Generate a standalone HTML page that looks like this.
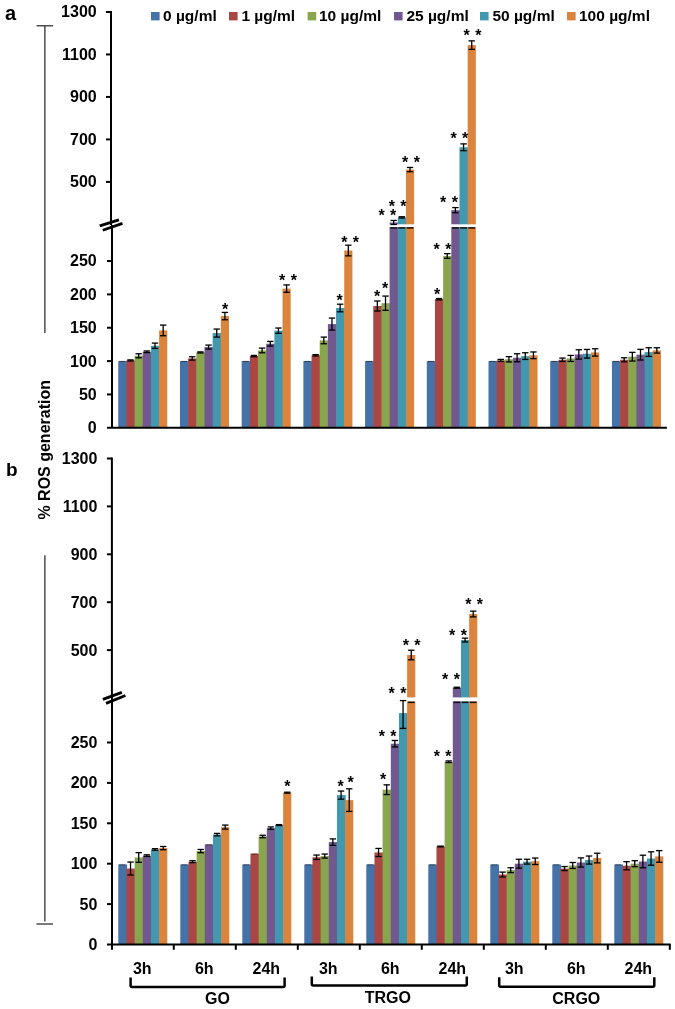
<!DOCTYPE html>
<html lang="en"><head><meta charset="utf-8"><title>ROS generation</title>
<style>html,body{margin:0;padding:0;background:#fff}svg{display:block}</style></head>
<body>
<svg width="675" height="1009" viewBox="0 0 675 1009" font-family='"Liberation Sans", sans-serif' font-weight="bold" fill="#000">
<rect width="675" height="1009" fill="#fff"/>
<rect x="118.25" y="361.10" width="8.77" height="66.70" fill="#4572A7"/>
<line x1="119.33" y1="361.40" x2="125.33" y2="361.40" stroke="#000" stroke-opacity="0.55" stroke-width="1"/>
<rect x="126.42" y="360.43" width="8.77" height="67.37" fill="#AA4643"/>
<line x1="130.50" y1="359.90" x2="130.50" y2="360.97" stroke="#000" stroke-width="1.3" stroke-linecap="butt"/>
<line x1="127.30" y1="359.90" x2="133.70" y2="359.90" stroke="#000" stroke-width="1.3" stroke-linecap="butt"/>
<line x1="127.30" y1="360.97" x2="133.70" y2="360.97" stroke="#000" stroke-width="1.3" stroke-linecap="butt"/>
<rect x="134.59" y="355.76" width="8.77" height="72.04" fill="#89A54E"/>
<line x1="138.67" y1="353.76" x2="138.67" y2="357.76" stroke="#000" stroke-width="1.3" stroke-linecap="butt"/>
<line x1="135.47" y1="353.76" x2="141.87" y2="353.76" stroke="#000" stroke-width="1.3" stroke-linecap="butt"/>
<line x1="135.47" y1="357.76" x2="141.87" y2="357.76" stroke="#000" stroke-width="1.3" stroke-linecap="butt"/>
<rect x="142.75" y="351.76" width="8.77" height="76.04" fill="#71588F"/>
<line x1="146.84" y1="350.96" x2="146.84" y2="352.56" stroke="#000" stroke-width="1.3" stroke-linecap="butt"/>
<line x1="143.64" y1="350.96" x2="150.04" y2="350.96" stroke="#000" stroke-width="1.3" stroke-linecap="butt"/>
<line x1="143.64" y1="352.56" x2="150.04" y2="352.56" stroke="#000" stroke-width="1.3" stroke-linecap="butt"/>
<rect x="150.93" y="345.76" width="8.77" height="82.04" fill="#4198AF"/>
<line x1="155.01" y1="343.09" x2="155.01" y2="348.43" stroke="#000" stroke-width="1.3" stroke-linecap="butt"/>
<line x1="151.81" y1="343.09" x2="158.21" y2="343.09" stroke="#000" stroke-width="1.3" stroke-linecap="butt"/>
<line x1="151.81" y1="348.43" x2="158.21" y2="348.43" stroke="#000" stroke-width="1.3" stroke-linecap="butt"/>
<rect x="159.09" y="330.42" width="8.17" height="97.38" fill="#DB843D"/>
<line x1="163.18" y1="325.08" x2="163.18" y2="335.75" stroke="#000" stroke-width="1.3" stroke-linecap="butt"/>
<line x1="159.98" y1="325.08" x2="166.38" y2="325.08" stroke="#000" stroke-width="1.3" stroke-linecap="butt"/>
<line x1="159.98" y1="335.75" x2="166.38" y2="335.75" stroke="#000" stroke-width="1.3" stroke-linecap="butt"/>
<rect x="179.96" y="361.10" width="8.77" height="66.70" fill="#4572A7"/>
<line x1="181.04" y1="361.40" x2="187.04" y2="361.40" stroke="#000" stroke-opacity="0.55" stroke-width="1"/>
<rect x="188.12" y="358.43" width="8.77" height="69.37" fill="#AA4643"/>
<line x1="192.21" y1="356.76" x2="192.21" y2="360.10" stroke="#000" stroke-width="1.3" stroke-linecap="butt"/>
<line x1="189.01" y1="356.76" x2="195.41" y2="356.76" stroke="#000" stroke-width="1.3" stroke-linecap="butt"/>
<line x1="189.01" y1="360.10" x2="195.41" y2="360.10" stroke="#000" stroke-width="1.3" stroke-linecap="butt"/>
<rect x="196.30" y="352.43" width="8.77" height="75.37" fill="#89A54E"/>
<line x1="200.38" y1="351.90" x2="200.38" y2="352.96" stroke="#000" stroke-width="1.3" stroke-linecap="butt"/>
<line x1="197.18" y1="351.90" x2="203.58" y2="351.90" stroke="#000" stroke-width="1.3" stroke-linecap="butt"/>
<line x1="197.18" y1="352.96" x2="203.58" y2="352.96" stroke="#000" stroke-width="1.3" stroke-linecap="butt"/>
<rect x="204.47" y="347.09" width="8.77" height="80.71" fill="#71588F"/>
<line x1="208.55" y1="345.09" x2="208.55" y2="349.09" stroke="#000" stroke-width="1.3" stroke-linecap="butt"/>
<line x1="205.35" y1="345.09" x2="211.75" y2="345.09" stroke="#000" stroke-width="1.3" stroke-linecap="butt"/>
<line x1="205.35" y1="349.09" x2="211.75" y2="349.09" stroke="#000" stroke-width="1.3" stroke-linecap="butt"/>
<rect x="212.64" y="333.09" width="8.77" height="94.71" fill="#4198AF"/>
<line x1="216.72" y1="329.08" x2="216.72" y2="337.09" stroke="#000" stroke-width="1.3" stroke-linecap="butt"/>
<line x1="213.52" y1="329.08" x2="219.92" y2="329.08" stroke="#000" stroke-width="1.3" stroke-linecap="butt"/>
<line x1="213.52" y1="337.09" x2="219.92" y2="337.09" stroke="#000" stroke-width="1.3" stroke-linecap="butt"/>
<rect x="220.81" y="316.08" width="8.17" height="111.72" fill="#DB843D"/>
<line x1="224.89" y1="312.41" x2="224.89" y2="319.75" stroke="#000" stroke-width="1.3" stroke-linecap="butt"/>
<line x1="221.69" y1="312.41" x2="228.09" y2="312.41" stroke="#000" stroke-width="1.3" stroke-linecap="butt"/>
<line x1="221.69" y1="319.75" x2="228.09" y2="319.75" stroke="#000" stroke-width="1.3" stroke-linecap="butt"/>
<rect x="241.67" y="361.10" width="8.77" height="66.70" fill="#4572A7"/>
<line x1="242.75" y1="361.40" x2="248.75" y2="361.40" stroke="#000" stroke-opacity="0.55" stroke-width="1"/>
<rect x="249.84" y="356.10" width="8.77" height="71.70" fill="#AA4643"/>
<line x1="253.92" y1="355.43" x2="253.92" y2="356.76" stroke="#000" stroke-width="1.3" stroke-linecap="butt"/>
<line x1="250.72" y1="355.43" x2="257.12" y2="355.43" stroke="#000" stroke-width="1.3" stroke-linecap="butt"/>
<line x1="250.72" y1="356.76" x2="257.12" y2="356.76" stroke="#000" stroke-width="1.3" stroke-linecap="butt"/>
<rect x="258.00" y="350.43" width="8.77" height="77.37" fill="#89A54E"/>
<line x1="262.09" y1="348.09" x2="262.09" y2="352.76" stroke="#000" stroke-width="1.3" stroke-linecap="butt"/>
<line x1="258.89" y1="348.09" x2="265.29" y2="348.09" stroke="#000" stroke-width="1.3" stroke-linecap="butt"/>
<line x1="258.89" y1="352.76" x2="265.29" y2="352.76" stroke="#000" stroke-width="1.3" stroke-linecap="butt"/>
<rect x="266.18" y="343.76" width="8.77" height="84.04" fill="#71588F"/>
<line x1="270.26" y1="341.42" x2="270.26" y2="346.09" stroke="#000" stroke-width="1.3" stroke-linecap="butt"/>
<line x1="267.06" y1="341.42" x2="273.46" y2="341.42" stroke="#000" stroke-width="1.3" stroke-linecap="butt"/>
<line x1="267.06" y1="346.09" x2="273.46" y2="346.09" stroke="#000" stroke-width="1.3" stroke-linecap="butt"/>
<rect x="274.35" y="330.68" width="8.77" height="97.12" fill="#4198AF"/>
<line x1="278.43" y1="328.02" x2="278.43" y2="333.35" stroke="#000" stroke-width="1.3" stroke-linecap="butt"/>
<line x1="275.23" y1="328.02" x2="281.63" y2="328.02" stroke="#000" stroke-width="1.3" stroke-linecap="butt"/>
<line x1="275.23" y1="333.35" x2="281.63" y2="333.35" stroke="#000" stroke-width="1.3" stroke-linecap="butt"/>
<rect x="282.52" y="288.60" width="8.17" height="139.20" fill="#DB843D"/>
<line x1="286.60" y1="284.93" x2="286.60" y2="292.27" stroke="#000" stroke-width="1.3" stroke-linecap="butt"/>
<line x1="283.40" y1="284.93" x2="289.80" y2="284.93" stroke="#000" stroke-width="1.3" stroke-linecap="butt"/>
<line x1="283.40" y1="292.27" x2="289.80" y2="292.27" stroke="#000" stroke-width="1.3" stroke-linecap="butt"/>
<rect x="303.38" y="361.10" width="8.77" height="66.70" fill="#4572A7"/>
<line x1="304.46" y1="361.40" x2="310.46" y2="361.40" stroke="#000" stroke-opacity="0.55" stroke-width="1"/>
<rect x="311.55" y="355.30" width="8.77" height="72.50" fill="#AA4643"/>
<line x1="315.63" y1="354.63" x2="315.63" y2="355.96" stroke="#000" stroke-width="1.3" stroke-linecap="butt"/>
<line x1="312.43" y1="354.63" x2="318.83" y2="354.63" stroke="#000" stroke-width="1.3" stroke-linecap="butt"/>
<line x1="312.43" y1="355.96" x2="318.83" y2="355.96" stroke="#000" stroke-width="1.3" stroke-linecap="butt"/>
<rect x="319.71" y="340.42" width="8.77" height="87.38" fill="#89A54E"/>
<line x1="323.80" y1="337.09" x2="323.80" y2="343.76" stroke="#000" stroke-width="1.3" stroke-linecap="butt"/>
<line x1="320.60" y1="337.09" x2="327.00" y2="337.09" stroke="#000" stroke-width="1.3" stroke-linecap="butt"/>
<line x1="320.60" y1="343.76" x2="327.00" y2="343.76" stroke="#000" stroke-width="1.3" stroke-linecap="butt"/>
<rect x="327.88" y="324.08" width="8.77" height="103.72" fill="#71588F"/>
<line x1="331.97" y1="318.08" x2="331.97" y2="330.08" stroke="#000" stroke-width="1.3" stroke-linecap="butt"/>
<line x1="328.77" y1="318.08" x2="335.17" y2="318.08" stroke="#000" stroke-width="1.3" stroke-linecap="butt"/>
<line x1="328.77" y1="330.08" x2="335.17" y2="330.08" stroke="#000" stroke-width="1.3" stroke-linecap="butt"/>
<rect x="336.06" y="308.01" width="8.77" height="119.79" fill="#4198AF"/>
<line x1="340.14" y1="304.20" x2="340.14" y2="311.81" stroke="#000" stroke-width="1.3" stroke-linecap="butt"/>
<line x1="336.94" y1="304.20" x2="343.34" y2="304.20" stroke="#000" stroke-width="1.3" stroke-linecap="butt"/>
<line x1="336.94" y1="311.81" x2="343.34" y2="311.81" stroke="#000" stroke-width="1.3" stroke-linecap="butt"/>
<rect x="344.23" y="250.51" width="8.17" height="177.29" fill="#DB843D"/>
<line x1="348.31" y1="245.18" x2="348.31" y2="255.85" stroke="#000" stroke-width="1.3" stroke-linecap="butt"/>
<line x1="345.11" y1="245.18" x2="351.51" y2="245.18" stroke="#000" stroke-width="1.3" stroke-linecap="butt"/>
<line x1="345.11" y1="255.85" x2="351.51" y2="255.85" stroke="#000" stroke-width="1.3" stroke-linecap="butt"/>
<rect x="365.09" y="361.10" width="8.77" height="66.70" fill="#4572A7"/>
<line x1="366.17" y1="361.40" x2="372.17" y2="361.40" stroke="#000" stroke-opacity="0.55" stroke-width="1"/>
<rect x="373.26" y="306.01" width="8.77" height="121.79" fill="#AA4643"/>
<line x1="377.34" y1="301.00" x2="377.34" y2="311.01" stroke="#000" stroke-width="1.3" stroke-linecap="butt"/>
<line x1="374.14" y1="301.00" x2="380.54" y2="301.00" stroke="#000" stroke-width="1.3" stroke-linecap="butt"/>
<line x1="374.14" y1="311.01" x2="380.54" y2="311.01" stroke="#000" stroke-width="1.3" stroke-linecap="butt"/>
<rect x="381.43" y="303.20" width="8.77" height="124.60" fill="#89A54E"/>
<line x1="385.51" y1="296.07" x2="385.51" y2="310.34" stroke="#000" stroke-width="1.3" stroke-linecap="butt"/>
<line x1="382.31" y1="296.07" x2="388.71" y2="296.07" stroke="#000" stroke-width="1.3" stroke-linecap="butt"/>
<line x1="382.31" y1="310.34" x2="388.71" y2="310.34" stroke="#000" stroke-width="1.3" stroke-linecap="butt"/>
<rect x="389.60" y="227.00" width="8.77" height="200.80" fill="#71588F"/>
<rect x="389.60" y="222.47" width="8.77" height="1.83" fill="#71588F"/>
<rect x="390.30" y="227.20" width="6.77" height="1.50" fill="#111"/>
<line x1="393.68" y1="220.45" x2="393.68" y2="224.49" stroke="#000" stroke-width="1.3" stroke-linecap="butt"/>
<line x1="390.48" y1="220.45" x2="396.88" y2="220.45" stroke="#000" stroke-width="1.3" stroke-linecap="butt"/>
<line x1="390.48" y1="224.49" x2="396.88" y2="224.49" stroke="#000" stroke-width="1.3" stroke-linecap="butt"/>
<rect x="397.77" y="227.00" width="8.77" height="200.80" fill="#4198AF"/>
<rect x="397.77" y="217.37" width="8.77" height="6.93" fill="#4198AF"/>
<rect x="398.47" y="227.20" width="6.77" height="1.50" fill="#111"/>
<line x1="401.85" y1="216.73" x2="401.85" y2="218.01" stroke="#000" stroke-width="1.3" stroke-linecap="butt"/>
<line x1="398.65" y1="216.73" x2="405.05" y2="216.73" stroke="#000" stroke-width="1.3" stroke-linecap="butt"/>
<line x1="398.65" y1="218.01" x2="405.05" y2="218.01" stroke="#000" stroke-width="1.3" stroke-linecap="butt"/>
<rect x="405.94" y="227.00" width="8.17" height="200.80" fill="#DB843D"/>
<rect x="405.94" y="169.58" width="8.17" height="54.72" fill="#DB843D"/>
<rect x="406.64" y="227.20" width="6.77" height="1.50" fill="#111"/>
<line x1="410.02" y1="167.46" x2="410.02" y2="171.70" stroke="#000" stroke-width="1.3" stroke-linecap="butt"/>
<line x1="406.82" y1="167.46" x2="413.22" y2="167.46" stroke="#000" stroke-width="1.3" stroke-linecap="butt"/>
<line x1="406.82" y1="171.70" x2="413.22" y2="171.70" stroke="#000" stroke-width="1.3" stroke-linecap="butt"/>
<rect x="426.80" y="361.10" width="8.77" height="66.70" fill="#4572A7"/>
<line x1="427.88" y1="361.40" x2="433.88" y2="361.40" stroke="#000" stroke-opacity="0.55" stroke-width="1"/>
<rect x="434.97" y="299.20" width="8.77" height="128.60" fill="#AA4643"/>
<line x1="439.05" y1="298.54" x2="439.05" y2="299.87" stroke="#000" stroke-width="1.3" stroke-linecap="butt"/>
<line x1="435.85" y1="298.54" x2="442.25" y2="298.54" stroke="#000" stroke-width="1.3" stroke-linecap="butt"/>
<line x1="435.85" y1="299.87" x2="442.25" y2="299.87" stroke="#000" stroke-width="1.3" stroke-linecap="butt"/>
<rect x="443.13" y="255.98" width="8.77" height="171.82" fill="#89A54E"/>
<line x1="447.22" y1="253.65" x2="447.22" y2="258.32" stroke="#000" stroke-width="1.3" stroke-linecap="butt"/>
<line x1="444.02" y1="253.65" x2="450.42" y2="253.65" stroke="#000" stroke-width="1.3" stroke-linecap="butt"/>
<line x1="444.02" y1="258.32" x2="450.42" y2="258.32" stroke="#000" stroke-width="1.3" stroke-linecap="butt"/>
<rect x="451.31" y="227.00" width="8.77" height="200.80" fill="#71588F"/>
<rect x="451.31" y="210.15" width="8.77" height="14.15" fill="#71588F"/>
<rect x="452.00" y="227.20" width="6.77" height="1.50" fill="#111"/>
<line x1="455.39" y1="207.60" x2="455.39" y2="212.70" stroke="#000" stroke-width="1.3" stroke-linecap="butt"/>
<line x1="452.19" y1="207.60" x2="458.59" y2="207.60" stroke="#000" stroke-width="1.3" stroke-linecap="butt"/>
<line x1="452.19" y1="212.70" x2="458.59" y2="212.70" stroke="#000" stroke-width="1.3" stroke-linecap="butt"/>
<rect x="459.48" y="227.00" width="8.77" height="200.80" fill="#4198AF"/>
<rect x="459.48" y="147.28" width="8.77" height="77.02" fill="#4198AF"/>
<rect x="460.18" y="227.20" width="6.77" height="1.50" fill="#111"/>
<line x1="463.56" y1="143.88" x2="463.56" y2="150.68" stroke="#000" stroke-width="1.3" stroke-linecap="butt"/>
<line x1="460.36" y1="143.88" x2="466.76" y2="143.88" stroke="#000" stroke-width="1.3" stroke-linecap="butt"/>
<line x1="460.36" y1="150.68" x2="466.76" y2="150.68" stroke="#000" stroke-width="1.3" stroke-linecap="butt"/>
<rect x="467.65" y="227.00" width="8.17" height="200.80" fill="#DB843D"/>
<rect x="467.65" y="45.11" width="8.17" height="179.19" fill="#DB843D"/>
<rect x="468.35" y="227.20" width="6.77" height="1.50" fill="#111"/>
<line x1="471.73" y1="40.87" x2="471.73" y2="49.36" stroke="#000" stroke-width="1.3" stroke-linecap="butt"/>
<line x1="468.53" y1="40.87" x2="474.93" y2="40.87" stroke="#000" stroke-width="1.3" stroke-linecap="butt"/>
<line x1="468.53" y1="49.36" x2="474.93" y2="49.36" stroke="#000" stroke-width="1.3" stroke-linecap="butt"/>
<rect x="488.50" y="361.10" width="8.77" height="66.70" fill="#4572A7"/>
<line x1="489.59" y1="361.40" x2="495.59" y2="361.40" stroke="#000" stroke-opacity="0.55" stroke-width="1"/>
<rect x="496.68" y="360.43" width="8.77" height="67.37" fill="#AA4643"/>
<line x1="500.76" y1="359.43" x2="500.76" y2="361.43" stroke="#000" stroke-width="1.3" stroke-linecap="butt"/>
<line x1="497.56" y1="359.43" x2="503.96" y2="359.43" stroke="#000" stroke-width="1.3" stroke-linecap="butt"/>
<line x1="497.56" y1="361.43" x2="503.96" y2="361.43" stroke="#000" stroke-width="1.3" stroke-linecap="butt"/>
<rect x="504.84" y="359.30" width="8.77" height="68.50" fill="#89A54E"/>
<line x1="508.93" y1="356.63" x2="508.93" y2="361.97" stroke="#000" stroke-width="1.3" stroke-linecap="butt"/>
<line x1="505.73" y1="356.63" x2="512.13" y2="356.63" stroke="#000" stroke-width="1.3" stroke-linecap="butt"/>
<line x1="505.73" y1="361.97" x2="512.13" y2="361.97" stroke="#000" stroke-width="1.3" stroke-linecap="butt"/>
<rect x="513.01" y="357.76" width="8.77" height="70.04" fill="#71588F"/>
<line x1="517.10" y1="353.76" x2="517.10" y2="361.77" stroke="#000" stroke-width="1.3" stroke-linecap="butt"/>
<line x1="513.90" y1="353.76" x2="520.30" y2="353.76" stroke="#000" stroke-width="1.3" stroke-linecap="butt"/>
<line x1="513.90" y1="361.77" x2="520.30" y2="361.77" stroke="#000" stroke-width="1.3" stroke-linecap="butt"/>
<rect x="521.18" y="356.10" width="8.77" height="71.70" fill="#4198AF"/>
<line x1="525.27" y1="352.76" x2="525.27" y2="359.43" stroke="#000" stroke-width="1.3" stroke-linecap="butt"/>
<line x1="522.07" y1="352.76" x2="528.47" y2="352.76" stroke="#000" stroke-width="1.3" stroke-linecap="butt"/>
<line x1="522.07" y1="359.43" x2="528.47" y2="359.43" stroke="#000" stroke-width="1.3" stroke-linecap="butt"/>
<rect x="529.36" y="355.30" width="8.17" height="72.50" fill="#DB843D"/>
<line x1="533.44" y1="351.96" x2="533.44" y2="358.63" stroke="#000" stroke-width="1.3" stroke-linecap="butt"/>
<line x1="530.24" y1="351.96" x2="536.64" y2="351.96" stroke="#000" stroke-width="1.3" stroke-linecap="butt"/>
<line x1="530.24" y1="358.63" x2="536.64" y2="358.63" stroke="#000" stroke-width="1.3" stroke-linecap="butt"/>
<rect x="550.22" y="361.10" width="8.77" height="66.70" fill="#4572A7"/>
<line x1="551.30" y1="361.40" x2="557.30" y2="361.40" stroke="#000" stroke-opacity="0.55" stroke-width="1"/>
<rect x="558.38" y="359.77" width="8.77" height="68.03" fill="#AA4643"/>
<line x1="562.47" y1="358.10" x2="562.47" y2="361.43" stroke="#000" stroke-width="1.3" stroke-linecap="butt"/>
<line x1="559.27" y1="358.10" x2="565.67" y2="358.10" stroke="#000" stroke-width="1.3" stroke-linecap="butt"/>
<line x1="559.27" y1="361.43" x2="565.67" y2="361.43" stroke="#000" stroke-width="1.3" stroke-linecap="butt"/>
<rect x="566.56" y="358.43" width="8.77" height="69.37" fill="#89A54E"/>
<line x1="570.64" y1="355.43" x2="570.64" y2="361.43" stroke="#000" stroke-width="1.3" stroke-linecap="butt"/>
<line x1="567.44" y1="355.43" x2="573.84" y2="355.43" stroke="#000" stroke-width="1.3" stroke-linecap="butt"/>
<line x1="567.44" y1="361.43" x2="573.84" y2="361.43" stroke="#000" stroke-width="1.3" stroke-linecap="butt"/>
<rect x="574.73" y="354.43" width="8.77" height="73.37" fill="#71588F"/>
<line x1="578.81" y1="349.76" x2="578.81" y2="359.10" stroke="#000" stroke-width="1.3" stroke-linecap="butt"/>
<line x1="575.61" y1="349.76" x2="582.01" y2="349.76" stroke="#000" stroke-width="1.3" stroke-linecap="butt"/>
<line x1="575.61" y1="359.10" x2="582.01" y2="359.10" stroke="#000" stroke-width="1.3" stroke-linecap="butt"/>
<rect x="582.89" y="353.76" width="8.77" height="74.04" fill="#4198AF"/>
<line x1="586.98" y1="349.43" x2="586.98" y2="358.10" stroke="#000" stroke-width="1.3" stroke-linecap="butt"/>
<line x1="583.78" y1="349.43" x2="590.18" y2="349.43" stroke="#000" stroke-width="1.3" stroke-linecap="butt"/>
<line x1="583.78" y1="358.10" x2="590.18" y2="358.10" stroke="#000" stroke-width="1.3" stroke-linecap="butt"/>
<rect x="591.07" y="352.43" width="8.17" height="75.37" fill="#DB843D"/>
<line x1="595.15" y1="348.76" x2="595.15" y2="356.10" stroke="#000" stroke-width="1.3" stroke-linecap="butt"/>
<line x1="591.95" y1="348.76" x2="598.35" y2="348.76" stroke="#000" stroke-width="1.3" stroke-linecap="butt"/>
<line x1="591.95" y1="356.10" x2="598.35" y2="356.10" stroke="#000" stroke-width="1.3" stroke-linecap="butt"/>
<rect x="611.93" y="361.10" width="8.77" height="66.70" fill="#4572A7"/>
<line x1="613.01" y1="361.40" x2="619.01" y2="361.40" stroke="#000" stroke-opacity="0.55" stroke-width="1"/>
<rect x="620.10" y="359.77" width="8.77" height="68.03" fill="#AA4643"/>
<line x1="624.18" y1="357.76" x2="624.18" y2="361.77" stroke="#000" stroke-width="1.3" stroke-linecap="butt"/>
<line x1="620.98" y1="357.76" x2="627.38" y2="357.76" stroke="#000" stroke-width="1.3" stroke-linecap="butt"/>
<line x1="620.98" y1="361.77" x2="627.38" y2="361.77" stroke="#000" stroke-width="1.3" stroke-linecap="butt"/>
<rect x="628.27" y="356.70" width="8.77" height="71.10" fill="#89A54E"/>
<line x1="632.35" y1="352.36" x2="632.35" y2="361.03" stroke="#000" stroke-width="1.3" stroke-linecap="butt"/>
<line x1="629.15" y1="352.36" x2="635.55" y2="352.36" stroke="#000" stroke-width="1.3" stroke-linecap="butt"/>
<line x1="629.15" y1="361.03" x2="635.55" y2="361.03" stroke="#000" stroke-width="1.3" stroke-linecap="butt"/>
<rect x="636.44" y="354.70" width="8.77" height="73.10" fill="#71588F"/>
<line x1="640.52" y1="349.36" x2="640.52" y2="360.03" stroke="#000" stroke-width="1.3" stroke-linecap="butt"/>
<line x1="637.32" y1="349.36" x2="643.72" y2="349.36" stroke="#000" stroke-width="1.3" stroke-linecap="butt"/>
<line x1="637.32" y1="360.03" x2="643.72" y2="360.03" stroke="#000" stroke-width="1.3" stroke-linecap="butt"/>
<rect x="644.61" y="352.10" width="8.77" height="75.70" fill="#4198AF"/>
<line x1="648.69" y1="347.76" x2="648.69" y2="356.43" stroke="#000" stroke-width="1.3" stroke-linecap="butt"/>
<line x1="645.49" y1="347.76" x2="651.89" y2="347.76" stroke="#000" stroke-width="1.3" stroke-linecap="butt"/>
<line x1="645.49" y1="356.43" x2="651.89" y2="356.43" stroke="#000" stroke-width="1.3" stroke-linecap="butt"/>
<rect x="652.78" y="350.43" width="8.17" height="77.37" fill="#DB843D"/>
<line x1="656.86" y1="347.76" x2="656.86" y2="353.10" stroke="#000" stroke-width="1.3" stroke-linecap="butt"/>
<line x1="653.66" y1="347.76" x2="660.06" y2="347.76" stroke="#000" stroke-width="1.3" stroke-linecap="butt"/>
<line x1="653.66" y1="353.10" x2="660.06" y2="353.10" stroke="#000" stroke-width="1.3" stroke-linecap="butt"/>
<line x1="111.00" y1="11.00" x2="111.00" y2="225.00" stroke="#000" stroke-width="2" stroke-linecap="butt"/>
<line x1="112.00" y1="225.00" x2="112.00" y2="427.80" stroke="#000" stroke-width="2" stroke-linecap="butt"/>
<line x1="107.00" y1="427.80" x2="666.89" y2="427.80" stroke="#000" stroke-width="2" stroke-linecap="butt"/>
<line x1="99.7" y1="225.9" x2="118.9" y2="219.9" stroke="#000" stroke-width="2.8"/>
<line x1="102.8" y1="230.3" x2="122.5" y2="223.4" stroke="#000" stroke-width="2.8"/>
<text x="96.70" y="433.20" font-size="16" text-anchor="end" >0</text>
<line x1="107.00" y1="394.45" x2="112.00" y2="394.45" stroke="#000" stroke-width="2" stroke-linecap="butt"/>
<text x="96.70" y="399.85" font-size="16" text-anchor="end" >50</text>
<line x1="107.00" y1="361.10" x2="112.00" y2="361.10" stroke="#000" stroke-width="2" stroke-linecap="butt"/>
<text x="96.70" y="366.50" font-size="16" text-anchor="end" >100</text>
<line x1="107.00" y1="327.75" x2="112.00" y2="327.75" stroke="#000" stroke-width="2" stroke-linecap="butt"/>
<text x="96.70" y="333.15" font-size="16" text-anchor="end" >150</text>
<line x1="107.00" y1="294.40" x2="112.00" y2="294.40" stroke="#000" stroke-width="2" stroke-linecap="butt"/>
<text x="96.70" y="299.80" font-size="16" text-anchor="end" >200</text>
<line x1="107.00" y1="261.05" x2="112.00" y2="261.05" stroke="#000" stroke-width="2" stroke-linecap="butt"/>
<text x="96.70" y="266.45" font-size="16" text-anchor="end" >250</text>
<line x1="106.00" y1="181.90" x2="111.00" y2="181.90" stroke="#000" stroke-width="2" stroke-linecap="butt"/>
<text x="96.70" y="187.30" font-size="16" text-anchor="end" >500</text>
<line x1="106.00" y1="139.42" x2="111.00" y2="139.42" stroke="#000" stroke-width="2" stroke-linecap="butt"/>
<text x="96.70" y="144.82" font-size="16" text-anchor="end" >700</text>
<line x1="106.00" y1="96.94" x2="111.00" y2="96.94" stroke="#000" stroke-width="2" stroke-linecap="butt"/>
<text x="96.70" y="102.34" font-size="16" text-anchor="end" >900</text>
<line x1="106.00" y1="54.46" x2="111.00" y2="54.46" stroke="#000" stroke-width="2" stroke-linecap="butt"/>
<text x="96.70" y="59.86" font-size="16" text-anchor="end" >1100</text>
<line x1="106.00" y1="11.98" x2="111.00" y2="11.98" stroke="#000" stroke-width="2" stroke-linecap="butt"/>
<text x="96.70" y="17.38" font-size="16" text-anchor="end" >1300</text>
<text x="225.00" y="315.20" font-size="16" text-anchor="middle" >*</text>
<text x="288.00" y="286.20" font-size="16" text-anchor="middle" word-spacing="0.9">* *</text>
<text x="339.60" y="306.00" font-size="16" text-anchor="middle" >*</text>
<text x="350.10" y="247.60" font-size="16" text-anchor="middle" word-spacing="0.9">* *</text>
<text x="377.00" y="302.20" font-size="16" text-anchor="middle" >*</text>
<text x="385.00" y="294.00" font-size="16" text-anchor="middle" >*</text>
<text x="387.30" y="220.90" font-size="16" text-anchor="middle" word-spacing="0.9">* *</text>
<text x="397.70" y="211.90" font-size="16" text-anchor="middle" word-spacing="0.9">* *</text>
<text x="411.00" y="168.20" font-size="16" text-anchor="middle" word-spacing="0.9">* *</text>
<text x="437.00" y="300.20" font-size="16" text-anchor="middle" >*</text>
<text x="442.50" y="255.20" font-size="16" text-anchor="middle" word-spacing="0.9">* *</text>
<text x="449.00" y="208.20" font-size="16" text-anchor="middle" word-spacing="0.9">* *</text>
<text x="459.40" y="143.80" font-size="16" text-anchor="middle" word-spacing="0.9">* *</text>
<text x="472.50" y="41.00" font-size="16" text-anchor="middle" word-spacing="0.9">* *</text>
<rect x="118.29" y="864.51" width="8.77" height="79.99" fill="#4572A7"/>
<line x1="119.37" y1="864.81" x2="125.37" y2="864.81" stroke="#000" stroke-opacity="0.55" stroke-width="1"/>
<rect x="126.46" y="868.55" width="8.77" height="75.95" fill="#AA4643"/>
<line x1="130.54" y1="862.08" x2="130.54" y2="875.01" stroke="#000" stroke-width="1.3" stroke-linecap="butt"/>
<line x1="127.34" y1="862.08" x2="133.74" y2="862.08" stroke="#000" stroke-width="1.3" stroke-linecap="butt"/>
<line x1="127.34" y1="875.01" x2="133.74" y2="875.01" stroke="#000" stroke-width="1.3" stroke-linecap="butt"/>
<rect x="134.63" y="857.48" width="8.77" height="87.02" fill="#89A54E"/>
<line x1="138.72" y1="852.63" x2="138.72" y2="862.33" stroke="#000" stroke-width="1.3" stroke-linecap="butt"/>
<line x1="135.52" y1="852.63" x2="141.91" y2="852.63" stroke="#000" stroke-width="1.3" stroke-linecap="butt"/>
<line x1="135.52" y1="862.33" x2="141.91" y2="862.33" stroke="#000" stroke-width="1.3" stroke-linecap="butt"/>
<rect x="142.80" y="855.62" width="8.77" height="88.88" fill="#71588F"/>
<line x1="146.88" y1="854.81" x2="146.88" y2="856.43" stroke="#000" stroke-width="1.3" stroke-linecap="butt"/>
<line x1="143.69" y1="854.81" x2="150.08" y2="854.81" stroke="#000" stroke-width="1.3" stroke-linecap="butt"/>
<line x1="143.69" y1="856.43" x2="150.08" y2="856.43" stroke="#000" stroke-width="1.3" stroke-linecap="butt"/>
<rect x="150.97" y="849.48" width="8.77" height="95.02" fill="#4198AF"/>
<line x1="155.06" y1="848.67" x2="155.06" y2="850.29" stroke="#000" stroke-width="1.3" stroke-linecap="butt"/>
<line x1="151.86" y1="848.67" x2="158.25" y2="848.67" stroke="#000" stroke-width="1.3" stroke-linecap="butt"/>
<line x1="151.86" y1="850.29" x2="158.25" y2="850.29" stroke="#000" stroke-width="1.3" stroke-linecap="butt"/>
<rect x="159.14" y="848.11" width="8.17" height="96.39" fill="#DB843D"/>
<line x1="163.22" y1="846.49" x2="163.22" y2="849.72" stroke="#000" stroke-width="1.3" stroke-linecap="butt"/>
<line x1="160.03" y1="846.49" x2="166.42" y2="846.49" stroke="#000" stroke-width="1.3" stroke-linecap="butt"/>
<line x1="160.03" y1="849.72" x2="166.42" y2="849.72" stroke="#000" stroke-width="1.3" stroke-linecap="butt"/>
<rect x="180.29" y="864.51" width="8.77" height="79.99" fill="#4572A7"/>
<line x1="181.38" y1="864.81" x2="187.38" y2="864.81" stroke="#000" stroke-opacity="0.55" stroke-width="1"/>
<rect x="188.46" y="861.68" width="8.77" height="82.82" fill="#AA4643"/>
<line x1="192.55" y1="860.71" x2="192.55" y2="862.65" stroke="#000" stroke-width="1.3" stroke-linecap="butt"/>
<line x1="189.35" y1="860.71" x2="195.75" y2="860.71" stroke="#000" stroke-width="1.3" stroke-linecap="butt"/>
<line x1="189.35" y1="862.65" x2="195.75" y2="862.65" stroke="#000" stroke-width="1.3" stroke-linecap="butt"/>
<rect x="196.63" y="851.10" width="8.77" height="93.40" fill="#89A54E"/>
<line x1="200.72" y1="849.48" x2="200.72" y2="852.71" stroke="#000" stroke-width="1.3" stroke-linecap="butt"/>
<line x1="197.52" y1="849.48" x2="203.92" y2="849.48" stroke="#000" stroke-width="1.3" stroke-linecap="butt"/>
<line x1="197.52" y1="852.71" x2="203.92" y2="852.71" stroke="#000" stroke-width="1.3" stroke-linecap="butt"/>
<rect x="204.80" y="844.47" width="8.77" height="100.03" fill="#71588F"/>
<line x1="205.89" y1="844.77" x2="211.89" y2="844.77" stroke="#000" stroke-opacity="0.55" stroke-width="1"/>
<rect x="212.97" y="834.61" width="8.77" height="109.89" fill="#4198AF"/>
<line x1="217.06" y1="833.40" x2="217.06" y2="835.82" stroke="#000" stroke-width="1.3" stroke-linecap="butt"/>
<line x1="213.86" y1="833.40" x2="220.26" y2="833.40" stroke="#000" stroke-width="1.3" stroke-linecap="butt"/>
<line x1="213.86" y1="835.82" x2="220.26" y2="835.82" stroke="#000" stroke-width="1.3" stroke-linecap="butt"/>
<rect x="221.14" y="827.10" width="8.17" height="117.40" fill="#DB843D"/>
<line x1="225.23" y1="825.08" x2="225.23" y2="829.12" stroke="#000" stroke-width="1.3" stroke-linecap="butt"/>
<line x1="222.03" y1="825.08" x2="228.43" y2="825.08" stroke="#000" stroke-width="1.3" stroke-linecap="butt"/>
<line x1="222.03" y1="829.12" x2="228.43" y2="829.12" stroke="#000" stroke-width="1.3" stroke-linecap="butt"/>
<rect x="242.29" y="864.51" width="8.77" height="79.99" fill="#4572A7"/>
<line x1="243.38" y1="864.81" x2="249.38" y2="864.81" stroke="#000" stroke-opacity="0.55" stroke-width="1"/>
<rect x="250.46" y="853.68" width="8.77" height="90.82" fill="#AA4643"/>
<line x1="251.55" y1="853.98" x2="257.55" y2="853.98" stroke="#000" stroke-opacity="0.55" stroke-width="1"/>
<rect x="258.63" y="836.47" width="8.77" height="108.03" fill="#89A54E"/>
<line x1="262.71" y1="835.26" x2="262.71" y2="837.68" stroke="#000" stroke-width="1.3" stroke-linecap="butt"/>
<line x1="259.51" y1="835.26" x2="265.91" y2="835.26" stroke="#000" stroke-width="1.3" stroke-linecap="butt"/>
<line x1="259.51" y1="837.68" x2="265.91" y2="837.68" stroke="#000" stroke-width="1.3" stroke-linecap="butt"/>
<rect x="266.80" y="828.15" width="8.77" height="116.35" fill="#71588F"/>
<line x1="270.88" y1="826.94" x2="270.88" y2="829.36" stroke="#000" stroke-width="1.3" stroke-linecap="butt"/>
<line x1="267.69" y1="826.94" x2="274.08" y2="826.94" stroke="#000" stroke-width="1.3" stroke-linecap="butt"/>
<line x1="267.69" y1="829.36" x2="274.08" y2="829.36" stroke="#000" stroke-width="1.3" stroke-linecap="butt"/>
<rect x="274.97" y="825.08" width="8.77" height="119.42" fill="#4198AF"/>
<line x1="279.06" y1="824.59" x2="279.06" y2="825.56" stroke="#000" stroke-width="1.3" stroke-linecap="butt"/>
<line x1="275.86" y1="824.59" x2="282.25" y2="824.59" stroke="#000" stroke-width="1.3" stroke-linecap="butt"/>
<line x1="275.86" y1="825.56" x2="282.25" y2="825.56" stroke="#000" stroke-width="1.3" stroke-linecap="butt"/>
<rect x="283.14" y="792.68" width="8.17" height="151.82" fill="#DB843D"/>
<line x1="287.23" y1="792.19" x2="287.23" y2="793.16" stroke="#000" stroke-width="1.3" stroke-linecap="butt"/>
<line x1="284.03" y1="792.19" x2="290.43" y2="792.19" stroke="#000" stroke-width="1.3" stroke-linecap="butt"/>
<line x1="284.03" y1="793.16" x2="290.43" y2="793.16" stroke="#000" stroke-width="1.3" stroke-linecap="butt"/>
<rect x="304.29" y="864.51" width="8.77" height="79.99" fill="#4572A7"/>
<line x1="305.38" y1="864.81" x2="311.38" y2="864.81" stroke="#000" stroke-opacity="0.55" stroke-width="1"/>
<rect x="312.46" y="857.24" width="8.77" height="87.26" fill="#AA4643"/>
<line x1="316.55" y1="855.05" x2="316.55" y2="859.42" stroke="#000" stroke-width="1.3" stroke-linecap="butt"/>
<line x1="313.35" y1="855.05" x2="319.75" y2="855.05" stroke="#000" stroke-width="1.3" stroke-linecap="butt"/>
<line x1="313.35" y1="859.42" x2="319.75" y2="859.42" stroke="#000" stroke-width="1.3" stroke-linecap="butt"/>
<rect x="320.63" y="856.10" width="8.77" height="88.40" fill="#89A54E"/>
<line x1="324.71" y1="854.08" x2="324.71" y2="858.12" stroke="#000" stroke-width="1.3" stroke-linecap="butt"/>
<line x1="321.51" y1="854.08" x2="327.91" y2="854.08" stroke="#000" stroke-width="1.3" stroke-linecap="butt"/>
<line x1="321.51" y1="858.12" x2="327.91" y2="858.12" stroke="#000" stroke-width="1.3" stroke-linecap="butt"/>
<rect x="328.80" y="842.13" width="8.77" height="102.37" fill="#71588F"/>
<line x1="332.88" y1="838.89" x2="332.88" y2="845.36" stroke="#000" stroke-width="1.3" stroke-linecap="butt"/>
<line x1="329.69" y1="838.89" x2="336.08" y2="838.89" stroke="#000" stroke-width="1.3" stroke-linecap="butt"/>
<line x1="329.69" y1="845.36" x2="336.08" y2="845.36" stroke="#000" stroke-width="1.3" stroke-linecap="butt"/>
<rect x="336.97" y="795.10" width="8.77" height="149.40" fill="#4198AF"/>
<line x1="341.06" y1="791.06" x2="341.06" y2="799.14" stroke="#000" stroke-width="1.3" stroke-linecap="butt"/>
<line x1="337.86" y1="791.06" x2="344.25" y2="791.06" stroke="#000" stroke-width="1.3" stroke-linecap="butt"/>
<line x1="337.86" y1="799.14" x2="344.25" y2="799.14" stroke="#000" stroke-width="1.3" stroke-linecap="butt"/>
<rect x="345.14" y="800.11" width="8.17" height="144.39" fill="#DB843D"/>
<line x1="349.23" y1="788.80" x2="349.23" y2="811.42" stroke="#000" stroke-width="1.3" stroke-linecap="butt"/>
<line x1="346.03" y1="788.80" x2="352.43" y2="788.80" stroke="#000" stroke-width="1.3" stroke-linecap="butt"/>
<line x1="346.03" y1="811.42" x2="352.43" y2="811.42" stroke="#000" stroke-width="1.3" stroke-linecap="butt"/>
<rect x="366.29" y="864.51" width="8.77" height="79.99" fill="#4572A7"/>
<line x1="367.38" y1="864.81" x2="373.38" y2="864.81" stroke="#000" stroke-opacity="0.55" stroke-width="1"/>
<rect x="374.46" y="852.47" width="8.77" height="92.03" fill="#AA4643"/>
<line x1="378.55" y1="848.43" x2="378.55" y2="856.51" stroke="#000" stroke-width="1.3" stroke-linecap="butt"/>
<line x1="375.35" y1="848.43" x2="381.75" y2="848.43" stroke="#000" stroke-width="1.3" stroke-linecap="butt"/>
<line x1="375.35" y1="856.51" x2="381.75" y2="856.51" stroke="#000" stroke-width="1.3" stroke-linecap="butt"/>
<rect x="382.63" y="789.69" width="8.77" height="154.81" fill="#89A54E"/>
<line x1="386.71" y1="784.84" x2="386.71" y2="794.54" stroke="#000" stroke-width="1.3" stroke-linecap="butt"/>
<line x1="383.51" y1="784.84" x2="389.91" y2="784.84" stroke="#000" stroke-width="1.3" stroke-linecap="butt"/>
<line x1="383.51" y1="794.54" x2="389.91" y2="794.54" stroke="#000" stroke-width="1.3" stroke-linecap="butt"/>
<rect x="390.80" y="743.71" width="8.77" height="200.79" fill="#71588F"/>
<line x1="394.88" y1="740.48" x2="394.88" y2="746.94" stroke="#000" stroke-width="1.3" stroke-linecap="butt"/>
<line x1="391.69" y1="740.48" x2="398.08" y2="740.48" stroke="#000" stroke-width="1.3" stroke-linecap="butt"/>
<line x1="391.69" y1="746.94" x2="398.08" y2="746.94" stroke="#000" stroke-width="1.3" stroke-linecap="butt"/>
<rect x="398.97" y="713.09" width="8.77" height="231.41" fill="#4198AF"/>
<line x1="403.06" y1="700.60" x2="403.06" y2="728.40" stroke="#000" stroke-width="1.3" stroke-linecap="butt"/>
<line x1="399.86" y1="700.60" x2="406.25" y2="700.60" stroke="#000" stroke-width="1.3" stroke-linecap="butt"/>
<line x1="399.86" y1="728.40" x2="406.25" y2="728.40" stroke="#000" stroke-width="1.3" stroke-linecap="butt"/>
<rect x="407.14" y="701.40" width="8.17" height="243.10" fill="#DB843D"/>
<rect x="407.14" y="655.01" width="8.17" height="42.39" fill="#DB843D"/>
<rect x="407.84" y="701.60" width="6.77" height="1.50" fill="#111"/>
<line x1="411.23" y1="650.22" x2="411.23" y2="659.80" stroke="#000" stroke-width="1.3" stroke-linecap="butt"/>
<line x1="408.03" y1="650.22" x2="414.43" y2="650.22" stroke="#000" stroke-width="1.3" stroke-linecap="butt"/>
<line x1="408.03" y1="659.80" x2="414.43" y2="659.80" stroke="#000" stroke-width="1.3" stroke-linecap="butt"/>
<rect x="428.29" y="864.51" width="8.77" height="79.99" fill="#4572A7"/>
<line x1="429.38" y1="864.81" x2="435.38" y2="864.81" stroke="#000" stroke-opacity="0.55" stroke-width="1"/>
<rect x="436.46" y="846.49" width="8.77" height="98.01" fill="#AA4643"/>
<line x1="440.55" y1="846.09" x2="440.55" y2="846.89" stroke="#000" stroke-width="1.3" stroke-linecap="butt"/>
<line x1="437.35" y1="846.09" x2="443.75" y2="846.09" stroke="#000" stroke-width="1.3" stroke-linecap="butt"/>
<line x1="437.35" y1="846.89" x2="443.75" y2="846.89" stroke="#000" stroke-width="1.3" stroke-linecap="butt"/>
<rect x="444.63" y="761.73" width="8.77" height="182.77" fill="#89A54E"/>
<line x1="448.71" y1="760.92" x2="448.71" y2="762.54" stroke="#000" stroke-width="1.3" stroke-linecap="butt"/>
<line x1="445.51" y1="760.92" x2="451.91" y2="760.92" stroke="#000" stroke-width="1.3" stroke-linecap="butt"/>
<line x1="445.51" y1="762.54" x2="451.91" y2="762.54" stroke="#000" stroke-width="1.3" stroke-linecap="butt"/>
<rect x="452.80" y="701.40" width="8.77" height="243.10" fill="#71588F"/>
<rect x="452.80" y="687.70" width="8.77" height="9.70" fill="#71588F"/>
<rect x="453.50" y="701.60" width="6.77" height="1.50" fill="#111"/>
<line x1="456.88" y1="687.22" x2="456.88" y2="688.18" stroke="#000" stroke-width="1.3" stroke-linecap="butt"/>
<line x1="453.69" y1="687.22" x2="460.08" y2="687.22" stroke="#000" stroke-width="1.3" stroke-linecap="butt"/>
<line x1="453.69" y1="688.18" x2="460.08" y2="688.18" stroke="#000" stroke-width="1.3" stroke-linecap="butt"/>
<rect x="460.97" y="701.40" width="8.77" height="243.10" fill="#4198AF"/>
<rect x="460.97" y="640.04" width="8.77" height="57.36" fill="#4198AF"/>
<rect x="461.67" y="701.60" width="6.77" height="1.50" fill="#111"/>
<line x1="465.06" y1="638.12" x2="465.06" y2="641.96" stroke="#000" stroke-width="1.3" stroke-linecap="butt"/>
<line x1="461.86" y1="638.12" x2="468.25" y2="638.12" stroke="#000" stroke-width="1.3" stroke-linecap="butt"/>
<line x1="461.86" y1="641.96" x2="468.25" y2="641.96" stroke="#000" stroke-width="1.3" stroke-linecap="butt"/>
<rect x="469.14" y="701.40" width="8.17" height="243.10" fill="#DB843D"/>
<rect x="469.14" y="614.01" width="8.17" height="83.39" fill="#DB843D"/>
<rect x="469.84" y="701.60" width="6.77" height="1.50" fill="#111"/>
<line x1="473.23" y1="611.13" x2="473.23" y2="616.88" stroke="#000" stroke-width="1.3" stroke-linecap="butt"/>
<line x1="470.03" y1="611.13" x2="476.43" y2="611.13" stroke="#000" stroke-width="1.3" stroke-linecap="butt"/>
<line x1="470.03" y1="616.88" x2="476.43" y2="616.88" stroke="#000" stroke-width="1.3" stroke-linecap="butt"/>
<rect x="490.29" y="864.51" width="8.77" height="79.99" fill="#4572A7"/>
<line x1="491.38" y1="864.81" x2="497.38" y2="864.81" stroke="#000" stroke-opacity="0.55" stroke-width="1"/>
<rect x="498.46" y="874.53" width="8.77" height="69.97" fill="#AA4643"/>
<line x1="502.55" y1="872.10" x2="502.55" y2="876.95" stroke="#000" stroke-width="1.3" stroke-linecap="butt"/>
<line x1="499.35" y1="872.10" x2="505.75" y2="872.10" stroke="#000" stroke-width="1.3" stroke-linecap="butt"/>
<line x1="499.35" y1="876.95" x2="505.75" y2="876.95" stroke="#000" stroke-width="1.3" stroke-linecap="butt"/>
<rect x="506.63" y="870.16" width="8.77" height="74.34" fill="#89A54E"/>
<line x1="510.71" y1="867.74" x2="510.71" y2="872.59" stroke="#000" stroke-width="1.3" stroke-linecap="butt"/>
<line x1="507.51" y1="867.74" x2="513.91" y2="867.74" stroke="#000" stroke-width="1.3" stroke-linecap="butt"/>
<line x1="507.51" y1="872.59" x2="513.91" y2="872.59" stroke="#000" stroke-width="1.3" stroke-linecap="butt"/>
<rect x="514.80" y="863.70" width="8.77" height="80.80" fill="#71588F"/>
<line x1="518.89" y1="859.26" x2="518.89" y2="868.14" stroke="#000" stroke-width="1.3" stroke-linecap="butt"/>
<line x1="515.69" y1="859.26" x2="522.09" y2="859.26" stroke="#000" stroke-width="1.3" stroke-linecap="butt"/>
<line x1="515.69" y1="868.14" x2="522.09" y2="868.14" stroke="#000" stroke-width="1.3" stroke-linecap="butt"/>
<rect x="522.97" y="861.68" width="8.77" height="82.82" fill="#4198AF"/>
<line x1="527.06" y1="859.26" x2="527.06" y2="864.10" stroke="#000" stroke-width="1.3" stroke-linecap="butt"/>
<line x1="523.86" y1="859.26" x2="530.26" y2="859.26" stroke="#000" stroke-width="1.3" stroke-linecap="butt"/>
<line x1="523.86" y1="864.10" x2="530.26" y2="864.10" stroke="#000" stroke-width="1.3" stroke-linecap="butt"/>
<rect x="531.14" y="861.28" width="8.17" height="83.22" fill="#DB843D"/>
<line x1="535.23" y1="858.04" x2="535.23" y2="864.51" stroke="#000" stroke-width="1.3" stroke-linecap="butt"/>
<line x1="532.02" y1="858.04" x2="538.43" y2="858.04" stroke="#000" stroke-width="1.3" stroke-linecap="butt"/>
<line x1="532.02" y1="864.51" x2="538.43" y2="864.51" stroke="#000" stroke-width="1.3" stroke-linecap="butt"/>
<rect x="552.29" y="864.51" width="8.77" height="79.99" fill="#4572A7"/>
<line x1="553.38" y1="864.81" x2="559.38" y2="864.81" stroke="#000" stroke-opacity="0.55" stroke-width="1"/>
<rect x="560.46" y="868.55" width="8.77" height="75.95" fill="#AA4643"/>
<line x1="564.54" y1="866.53" x2="564.54" y2="870.57" stroke="#000" stroke-width="1.3" stroke-linecap="butt"/>
<line x1="561.34" y1="866.53" x2="567.75" y2="866.53" stroke="#000" stroke-width="1.3" stroke-linecap="butt"/>
<line x1="561.34" y1="870.57" x2="567.75" y2="870.57" stroke="#000" stroke-width="1.3" stroke-linecap="butt"/>
<rect x="568.63" y="865.48" width="8.77" height="79.02" fill="#89A54E"/>
<line x1="572.72" y1="862.49" x2="572.72" y2="868.47" stroke="#000" stroke-width="1.3" stroke-linecap="butt"/>
<line x1="569.51" y1="862.49" x2="575.92" y2="862.49" stroke="#000" stroke-width="1.3" stroke-linecap="butt"/>
<line x1="569.51" y1="868.47" x2="575.92" y2="868.47" stroke="#000" stroke-width="1.3" stroke-linecap="butt"/>
<rect x="576.80" y="862.49" width="8.77" height="82.01" fill="#71588F"/>
<line x1="580.88" y1="857.88" x2="580.88" y2="867.09" stroke="#000" stroke-width="1.3" stroke-linecap="butt"/>
<line x1="577.68" y1="857.88" x2="584.09" y2="857.88" stroke="#000" stroke-width="1.3" stroke-linecap="butt"/>
<line x1="577.68" y1="867.09" x2="584.09" y2="867.09" stroke="#000" stroke-width="1.3" stroke-linecap="butt"/>
<rect x="584.97" y="860.06" width="8.77" height="84.44" fill="#4198AF"/>
<line x1="589.05" y1="856.02" x2="589.05" y2="864.10" stroke="#000" stroke-width="1.3" stroke-linecap="butt"/>
<line x1="585.85" y1="856.02" x2="592.25" y2="856.02" stroke="#000" stroke-width="1.3" stroke-linecap="butt"/>
<line x1="585.85" y1="864.10" x2="592.25" y2="864.10" stroke="#000" stroke-width="1.3" stroke-linecap="butt"/>
<rect x="593.14" y="858.04" width="8.17" height="86.46" fill="#DB843D"/>
<line x1="597.23" y1="853.20" x2="597.23" y2="862.89" stroke="#000" stroke-width="1.3" stroke-linecap="butt"/>
<line x1="594.02" y1="853.20" x2="600.43" y2="853.20" stroke="#000" stroke-width="1.3" stroke-linecap="butt"/>
<line x1="594.02" y1="862.89" x2="600.43" y2="862.89" stroke="#000" stroke-width="1.3" stroke-linecap="butt"/>
<rect x="614.29" y="864.51" width="8.77" height="79.99" fill="#4572A7"/>
<line x1="615.38" y1="864.81" x2="621.38" y2="864.81" stroke="#000" stroke-opacity="0.55" stroke-width="1"/>
<rect x="622.46" y="865.72" width="8.77" height="78.78" fill="#AA4643"/>
<line x1="626.54" y1="861.68" x2="626.54" y2="869.76" stroke="#000" stroke-width="1.3" stroke-linecap="butt"/>
<line x1="623.34" y1="861.68" x2="629.75" y2="861.68" stroke="#000" stroke-width="1.3" stroke-linecap="butt"/>
<line x1="623.34" y1="869.76" x2="629.75" y2="869.76" stroke="#000" stroke-width="1.3" stroke-linecap="butt"/>
<rect x="630.63" y="863.70" width="8.77" height="80.80" fill="#89A54E"/>
<line x1="634.72" y1="860.71" x2="634.72" y2="866.69" stroke="#000" stroke-width="1.3" stroke-linecap="butt"/>
<line x1="631.51" y1="860.71" x2="637.92" y2="860.71" stroke="#000" stroke-width="1.3" stroke-linecap="butt"/>
<line x1="631.51" y1="866.69" x2="637.92" y2="866.69" stroke="#000" stroke-width="1.3" stroke-linecap="butt"/>
<rect x="638.80" y="861.52" width="8.77" height="82.98" fill="#71588F"/>
<line x1="642.88" y1="855.22" x2="642.88" y2="867.82" stroke="#000" stroke-width="1.3" stroke-linecap="butt"/>
<line x1="639.68" y1="855.22" x2="646.09" y2="855.22" stroke="#000" stroke-width="1.3" stroke-linecap="butt"/>
<line x1="639.68" y1="867.82" x2="646.09" y2="867.82" stroke="#000" stroke-width="1.3" stroke-linecap="butt"/>
<rect x="646.97" y="858.53" width="8.77" height="85.97" fill="#4198AF"/>
<line x1="651.05" y1="851.82" x2="651.05" y2="865.24" stroke="#000" stroke-width="1.3" stroke-linecap="butt"/>
<line x1="647.85" y1="851.82" x2="654.25" y2="851.82" stroke="#000" stroke-width="1.3" stroke-linecap="butt"/>
<line x1="647.85" y1="865.24" x2="654.25" y2="865.24" stroke="#000" stroke-width="1.3" stroke-linecap="butt"/>
<rect x="655.14" y="856.43" width="8.17" height="88.07" fill="#DB843D"/>
<line x1="659.23" y1="850.61" x2="659.23" y2="862.25" stroke="#000" stroke-width="1.3" stroke-linecap="butt"/>
<line x1="656.02" y1="850.61" x2="662.43" y2="850.61" stroke="#000" stroke-width="1.3" stroke-linecap="butt"/>
<line x1="656.02" y1="862.25" x2="662.43" y2="862.25" stroke="#000" stroke-width="1.3" stroke-linecap="butt"/>
<line x1="111.90" y1="457.50" x2="111.90" y2="698.00" stroke="#000" stroke-width="2" stroke-linecap="butt"/>
<line x1="112.00" y1="698.00" x2="112.00" y2="949.80" stroke="#000" stroke-width="2" stroke-linecap="butt"/>
<line x1="107.00" y1="944.50" x2="670.80" y2="944.50" stroke="#000" stroke-width="2" stroke-linecap="butt"/>
<line x1="102.9" y1="699.4" x2="121.9" y2="692.3" stroke="#000" stroke-width="2.9"/>
<line x1="106" y1="703.3" x2="125.4" y2="695.5" stroke="#000" stroke-width="2.9"/>
<text x="97.40" y="949.90" font-size="16" text-anchor="end" >0</text>
<line x1="107.00" y1="904.10" x2="112.00" y2="904.10" stroke="#000" stroke-width="2" stroke-linecap="butt"/>
<text x="97.40" y="909.50" font-size="16" text-anchor="end" >50</text>
<line x1="107.00" y1="863.70" x2="112.00" y2="863.70" stroke="#000" stroke-width="2" stroke-linecap="butt"/>
<text x="97.40" y="869.10" font-size="16" text-anchor="end" >100</text>
<line x1="107.00" y1="823.30" x2="112.00" y2="823.30" stroke="#000" stroke-width="2" stroke-linecap="butt"/>
<text x="97.40" y="828.70" font-size="16" text-anchor="end" >150</text>
<line x1="107.00" y1="782.90" x2="112.00" y2="782.90" stroke="#000" stroke-width="2" stroke-linecap="butt"/>
<text x="97.40" y="788.30" font-size="16" text-anchor="end" >200</text>
<line x1="107.00" y1="742.50" x2="112.00" y2="742.50" stroke="#000" stroke-width="2" stroke-linecap="butt"/>
<text x="97.40" y="747.90" font-size="16" text-anchor="end" >250</text>
<line x1="106.90" y1="650.10" x2="111.90" y2="650.10" stroke="#000" stroke-width="2" stroke-linecap="butt"/>
<text x="97.40" y="655.50" font-size="16" text-anchor="end" >500</text>
<line x1="106.90" y1="602.20" x2="111.90" y2="602.20" stroke="#000" stroke-width="2" stroke-linecap="butt"/>
<text x="97.40" y="607.60" font-size="16" text-anchor="end" >700</text>
<line x1="106.90" y1="554.30" x2="111.90" y2="554.30" stroke="#000" stroke-width="2" stroke-linecap="butt"/>
<text x="97.40" y="559.70" font-size="16" text-anchor="end" >900</text>
<line x1="106.90" y1="506.40" x2="111.90" y2="506.40" stroke="#000" stroke-width="2" stroke-linecap="butt"/>
<text x="97.40" y="511.80" font-size="16" text-anchor="end" >1100</text>
<line x1="106.90" y1="458.50" x2="111.90" y2="458.50" stroke="#000" stroke-width="2" stroke-linecap="butt"/>
<text x="97.40" y="463.90" font-size="16" text-anchor="end" >1300</text>
<line x1="173.80" y1="944.50" x2="173.80" y2="949.80" stroke="#000" stroke-width="2" stroke-linecap="butt"/>
<line x1="235.80" y1="944.50" x2="235.80" y2="949.80" stroke="#000" stroke-width="2" stroke-linecap="butt"/>
<line x1="297.80" y1="944.50" x2="297.80" y2="949.80" stroke="#000" stroke-width="2" stroke-linecap="butt"/>
<line x1="359.80" y1="944.50" x2="359.80" y2="949.80" stroke="#000" stroke-width="2" stroke-linecap="butt"/>
<line x1="421.80" y1="944.50" x2="421.80" y2="949.80" stroke="#000" stroke-width="2" stroke-linecap="butt"/>
<line x1="483.80" y1="944.50" x2="483.80" y2="949.80" stroke="#000" stroke-width="2" stroke-linecap="butt"/>
<line x1="545.80" y1="944.50" x2="545.80" y2="949.80" stroke="#000" stroke-width="2" stroke-linecap="butt"/>
<line x1="607.80" y1="944.50" x2="607.80" y2="949.80" stroke="#000" stroke-width="2" stroke-linecap="butt"/>
<line x1="669.80" y1="944.50" x2="669.80" y2="949.80" stroke="#000" stroke-width="2" stroke-linecap="butt"/>
<text x="287.40" y="792.20" font-size="16" text-anchor="middle" >*</text>
<text x="340.60" y="792.20" font-size="16" text-anchor="middle" >*</text>
<text x="350.60" y="787.60" font-size="16" text-anchor="middle" >*</text>
<text x="383.00" y="784.60" font-size="16" text-anchor="middle" >*</text>
<text x="387.70" y="741.60" font-size="16" text-anchor="middle" word-spacing="0.9">* *</text>
<text x="397.50" y="698.80" font-size="16" text-anchor="middle" word-spacing="0.9">* *</text>
<text x="411.70" y="650.60" font-size="16" text-anchor="middle" word-spacing="0.9">* *</text>
<text x="442.70" y="761.60" font-size="16" text-anchor="middle" word-spacing="0.9">* *</text>
<text x="451.00" y="685.20" font-size="16" text-anchor="middle" word-spacing="0.9">* *</text>
<text x="458.00" y="641.00" font-size="16" text-anchor="middle" word-spacing="0.9">* *</text>
<text x="474.20" y="610.20" font-size="16" text-anchor="middle" word-spacing="0.9">* *</text>
<rect x="151.00" y="12.00" width="8.60" height="8.40" fill="#4572A7"/>
<text x="163.00" y="20.70" font-size="15.5" text-anchor="start" >0 µg/ml</text>
<rect x="229.00" y="12.00" width="8.60" height="8.40" fill="#AA4643"/>
<text x="241.40" y="20.70" font-size="15.5" text-anchor="start" >1 µg/ml</text>
<rect x="307.60" y="12.00" width="8.60" height="8.40" fill="#89A54E"/>
<text x="319.00" y="20.70" font-size="15.5" text-anchor="start" >10 µg/ml</text>
<rect x="394.00" y="12.00" width="8.60" height="8.40" fill="#71588F"/>
<text x="406.40" y="20.70" font-size="15.5" text-anchor="start" >25 µg/ml</text>
<rect x="480.00" y="12.00" width="8.60" height="8.40" fill="#4198AF"/>
<text x="492.40" y="20.70" font-size="15.5" text-anchor="start" >50 µg/ml</text>
<rect x="567.00" y="12.00" width="8.60" height="8.40" fill="#DB843D"/>
<text x="579.00" y="20.70" font-size="15.5" text-anchor="start" >100 µg/ml</text>
<text x="5.00" y="19.90" font-size="20" text-anchor="start" >a</text>
<text x="6.00" y="476.00" font-size="19" text-anchor="start" >b</text>
<text transform="translate(49.9,519.6) rotate(-90)" font-size="16">% ROS generation</text>
<line x1="44.9" y1="25.8" x2="44.9" y2="333" stroke="#222" stroke-width="1.2"/>
<line x1="36.6" y1="25.8" x2="53.1" y2="25.8" stroke="#222" stroke-width="1.2"/>
<line x1="44.9" y1="555.2" x2="44.9" y2="921.4" stroke="#222" stroke-width="1.2"/>
<line x1="36.4" y1="924" x2="53" y2="924" stroke="#222" stroke-width="1.2"/>
<text x="142.30" y="974.00" font-size="16" text-anchor="middle" >3h</text>
<text x="204.30" y="974.00" font-size="16" text-anchor="middle" >6h</text>
<text x="266.30" y="974.00" font-size="16" text-anchor="middle" >24h</text>
<text x="328.30" y="974.00" font-size="16" text-anchor="middle" >3h</text>
<text x="390.30" y="974.00" font-size="16" text-anchor="middle" >6h</text>
<text x="452.30" y="974.00" font-size="16" text-anchor="middle" >24h</text>
<text x="514.30" y="974.00" font-size="16" text-anchor="middle" >3h</text>
<text x="576.30" y="974.00" font-size="16" text-anchor="middle" >6h</text>
<text x="638.30" y="974.00" font-size="16" text-anchor="middle" >24h</text>
<path d="M130.6 977.4 V985.5 Q130.6 987.0 132.1 987.0 H283.1 Q284.6 987.0 284.6 985.5 V977.4" fill="none" stroke="#000" stroke-width="2.5"/>
<path d="M311.8 976.4 V983.9 Q311.8 985.4 313.3 985.4 H465.3 Q466.8 985.4 466.8 983.9 V976.4" fill="none" stroke="#000" stroke-width="2.5"/>
<path d="M499.2 977.2 V985.3 Q499.2 986.8 500.7 986.8 H652.8 Q654.3 986.8 654.3 985.3 V977.2" fill="none" stroke="#000" stroke-width="2.5"/>
<text x="217.40" y="1004.00" font-size="16" text-anchor="middle" >GO</text>
<text x="387.80" y="1003.40" font-size="16" text-anchor="middle" >TRGO</text>
<text x="576.30" y="1003.60" font-size="16" text-anchor="middle" >CRGO</text>
</svg>
</body></html>
